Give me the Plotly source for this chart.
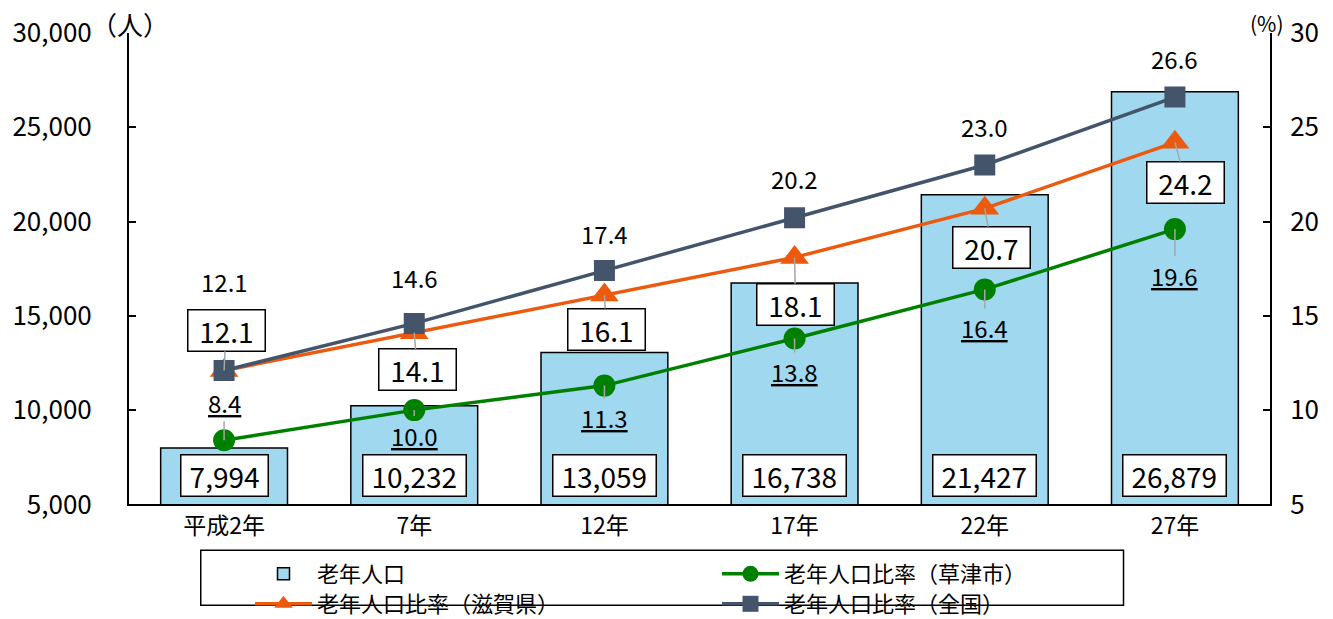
import plotly.graph_objects as go

categories = ["平成2年", "7年", "12年", "17年", "22年", "27年"]
elderly_pop = [7994, 10232, 13059, 16738, 21427, 26879]
ratio_kusatsu = [8.4, 10.0, 11.3, 13.8, 16.4, 19.6]
ratio_shiga = [12.1, 14.1, 16.1, 18.1, 20.7, 24.2]
ratio_japan = [12.1, 14.6, 17.4, 20.2, 23.0, 26.6]

# label offsets (pixels)
japan_shift = [89, 46, 37, 39, 38, 39]
shiga_off = [(2, -40), (3, 37), (2, 34), (1, 47), (7, 39), (11, 40)]
kusatsu_off = [(0, -38), (0, 25), (0, 32), (0, 33), (0, 38), (0, 46)]

FONT = "Noto Sans CJK JP"
BAR_COLOR = "#A0D8EF"
GREEN = "#008000"
ORANGE = "#EB5A0E"
SLATE = "#44546A"

fig = go.Figure()
fig.add_trace(go.Bar(
    x=categories, y=elderly_pop, name="老年人口",
    marker=dict(color=BAR_COLOR, line=dict(color="black", width=1.5)),
    width=0.667, yaxis="y", legend="legend",
))
fig.add_trace(go.Scatter(
    x=categories, y=ratio_kusatsu, name="老年人口比率（草津市）", yaxis="y2",
    mode="lines+markers", line=dict(color=GREEN, width=3.5),
    marker=dict(symbol="circle", size=22, color=GREEN), legend="legend",
))
fig.add_trace(go.Scatter(
    x=categories, y=ratio_shiga, name="老年人口比率（滋賀県）", yaxis="y2",
    mode="lines+markers", line=dict(color=ORANGE, width=3.5),
    marker=dict(symbol="triangle-up", size=25, color=ORANGE), legend="legend2",
))
fig.add_trace(go.Scatter(
    x=categories, y=ratio_japan, name="老年人口比率（全国）", yaxis="y2",
    mode="lines+markers", line=dict(color=SLATE, width=3.5),
    marker=dict(symbol="square", size=21, color=SLATE), legend="legend2",
))


def text_w(s, size):
    w = 0.0
    for ch in s:
        if ch.isdigit():
            w += 0.55 * size
        else:
            w += 0.27 * size
    return w


BOX_SIZE = 28
PLAIN_SIZE = 24
box_font = dict(family=FONT, size=BOX_SIZE, color="black")
plain_font = dict(family=FONT, size=PLAIN_SIZE, color="black")

ann = []
# bar labels
for c, v in zip(categories, elderly_pop):
    t = f"{v:,}"
    ann.append(dict(x=c, y=5000, xref="x", yref="y", yshift=29,
                    text=t, showarrow=False, font=box_font,
                    width=text_w(t, BOX_SIZE) + 13, height=36,
                    bgcolor="white", bordercolor="black", borderwidth=1.5,
                    borderpad=2))
# national labels
for c, v, s in zip(categories, ratio_japan, japan_shift):
    ann.append(dict(x=c, y=v, xref="x", yref="y2", yshift=s,
                    text=f"{v:.1f}", showarrow=False, font=plain_font))
# shiga labels
for c, v, (ax, ay) in zip(categories, ratio_shiga, shiga_off):
    t = f"{v:.1f}"
    ann.append(dict(x=c, y=v, xref="x", yref="y2", ax=ax, ay=ay,
                    axref="pixel", ayref="pixel",
                    text=t, showarrow=True, arrowhead=0,
                    arrowcolor="#A6A6A6", arrowwidth=1.5, standoff=0,
                    font=box_font, width=text_w(t, BOX_SIZE) + 18, height=36,
                    bgcolor="white", bordercolor="black",
                    borderwidth=1.5, borderpad=2))
# kusatsu labels
for c, v, (ax, ay) in zip(categories, ratio_kusatsu, kusatsu_off):
    ann.append(dict(x=c, y=v, xref="x", yref="y2", ax=ax, ay=ay,
                    axref="pixel", ayref="pixel",
                    text=f"<u>{v:.1f}</u>", showarrow=True, arrowhead=0,
                    arrowcolor="#A6A6A6", arrowwidth=1.5, standoff=0,
                    font=plain_font))
# unit labels
ann.append(dict(x=0, y=1.0, xref="paper", yref="paper", xanchor="center",
                yanchor="middle", xshift=1, yshift=10, text="（人）",
                showarrow=False, font=dict(family=FONT, size=26, color="black")))
ann.append(dict(x=1, y=1.0, xref="paper", yref="paper", xanchor="center",
                yanchor="middle", xshift=-3, yshift=10, text="(%)",
                showarrow=False, font=dict(family=FONT, size=21, color="black")))

legend_common = dict(orientation="h", xref="container", yref="container",
                     x=250 / 1333, xanchor="left", yanchor="middle",
                     entrywidth=395, entrywidthmode="pixels",
                     bgcolor="rgba(0,0,0,0)", borderwidth=0,
                     font=dict(family=FONT, size=22, color="black"),
                     itemwidth=57, traceorder="normal")

fig.update_layout(
    width=1333, height=619,
    margin=dict(l=125, r=63, t=32, b=105),
    paper_bgcolor="white", plot_bgcolor="white",
    font=dict(family=FONT, size=20, color="black"),
    xaxis=dict(showline=True, linecolor="black", linewidth=2, ticks="",
               tickfont=dict(size=23), showgrid=False),
    yaxis=dict(range=[5000, 30000], dtick=5000, tick0=5000, tickformat=",",
               showline=True, linecolor="black", linewidth=2, ticks="inside",
               ticklen=7, tickcolor="black", tickwidth=2, showgrid=False,
               zeroline=False, tickfont=dict(size=26), ticklabelstandoff=30),
    yaxis2=dict(range=[5, 30], dtick=5, tick0=5, overlaying="y", side="right",
                showline=True, linecolor="black", linewidth=2, ticks="inside",
                ticklen=7, tickcolor="black", tickwidth=2, showgrid=False,
                zeroline=False, tickfont=dict(size=26), ticklabelstandoff=13),
    legend=dict(legend_common, y=1 - 574 / 619),
    legend2=dict(legend_common, y=1 - 604 / 619),
    annotations=ann,
    shapes=[dict(type="rect", xref="paper", yref="paper",
                 x0=(197 - 125) / 1145, x1=(1123 - 125) / 1145,
                 y0=(514 - 561) / 482, y1=(514 - 617) / 482,
                 line=dict(color="black", width=1.5), fillcolor="rgba(0,0,0,0)")],
    showlegend=True,
)

fig.write_html("out.html", config={"displayModeBar": False},
               post_script="document.body.style.margin='0px';")
